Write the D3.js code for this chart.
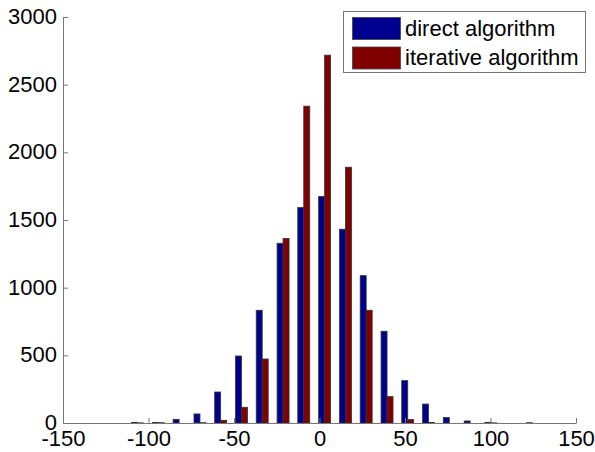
<!DOCTYPE html>
<html>
<head>
<meta charset="utf-8">
<script src="https://cdn.jsdelivr.net/npm/d3@7"></script>
<style>
  body { margin: 0; background: #fff; }
  svg { display: block; font-family: "Liberation Sans", Arial, sans-serif; }
</style>
</head>
<body>
<svg id="chart" width="595" height="452"></svg>
<script>
// bin centres of the histogram
const binCenters = [-106.4, -94.2, -82.1, -69.9, -57.8, -45.6, -33.5, -21.3, -9.2, 3.0,
                    15.2, 27.3, 39.5, 51.6, 63.8, 75.9, 88.1, 100.2, 112.4, 124.5];
const directCounts = [4, 3, 27, 67, 229, 495, 833, 1328, 1592, 1673,
                      1432, 1089, 678, 313, 140, 40, 15, 5, 0, 2];
const iterativeCounts = [1, 2, 0, 2, 20, 116, 473, 1363, 2341, 2718,
                         1890, 833, 195, 25, 3, 0, 0, 1, 0, 0];
const seriesNames = ["direct algorithm", "iterative algorithm"];
const seriesColors = ["#00008f", "#800000"];
const xTicks = [-150, -100, -50, 0, 50, 100, 150];
const yTicks = [0, 500, 1000, 1500, 2000, 2500, 3000];

const svg = d3.select("#chart");
const mLeft = 63, mRight = 576, mTop = 17, mBottom = 423;
const fontSize = 22;

const x = d3.scaleLinear().domain([-150, 150]).range([mLeft, mRight]);
const y = d3.scaleLinear().domain([0, 3000]).range([mBottom, mTop]);
const barW = 3.5; // data units per bar

const series = [directCounts, iterativeCounts];

// Bars
series.forEach((vals, s) => {
  svg.append("g")
    .selectAll("rect")
    .data(vals.map((v, i) => ({ c: binCenters[i], v })))
    .enter()
    .append("rect")
    .attr("x", d => s === 0 ? x(d.c - barW) : x(d.c))
    .attr("width", d => x(d.c + barW) - x(d.c))
    .attr("y", d => y(d.v))
    .attr("height", d => y(0) - y(d.v))
    .attr("fill", seriesColors[s])
    .attr("stroke", "#333")
    .attr("stroke-width", 0.8);
});

// Axes (plain hyphen minus, no thousands separator)
const fmt = d => String(d);
const xAxis = svg.append("g")
  .attr("transform", `translate(0,${mBottom})`)
  .call(d3.axisBottom(x).tickValues(xTicks).tickFormat(fmt)
    .tickSizeInner(-5).tickSizeOuter(0).tickPadding(7));
const yAxis = svg.append("g")
  .attr("transform", `translate(${mLeft},0)`)
  .call(d3.axisLeft(y).tickValues(yTicks).tickFormat(fmt)
    .tickSizeInner(-5).tickSizeOuter(0).tickPadding(6));

[xAxis, yAxis].forEach(a => {
  a.select(".domain").attr("stroke", "#777").attr("stroke-width", 1);
  a.selectAll(".tick line").attr("stroke", "#777");
  a.selectAll("text")
    .attr("font-size", fontSize)
    .attr("font-family", "Liberation Sans, Arial, sans-serif")
    .attr("fill", "#000");
});
yAxis.selectAll("text").attr("dy", "0.3em");

// Legend
const lg = svg.append("g");
lg.append("rect")
  .attr("x", 343.5).attr("y", 11.5)
  .attr("width", 242).attr("height", 61)
  .attr("fill", "#fff").attr("stroke", "#777");

seriesNames.forEach((name, i) => {
  const yy = 17.5 + i * 29.5;
  lg.append("rect")
    .attr("x", 352.5).attr("y", yy)
    .attr("width", 48).attr("height", 22)
    .attr("fill", seriesColors[i]).attr("stroke", "#444").attr("stroke-width", 0.8);
  lg.append("text")
    .attr("x", 405).attr("y", yy + 18)
    .attr("font-size", fontSize)
    .text(name);
});
</script>
</body>
</html>
